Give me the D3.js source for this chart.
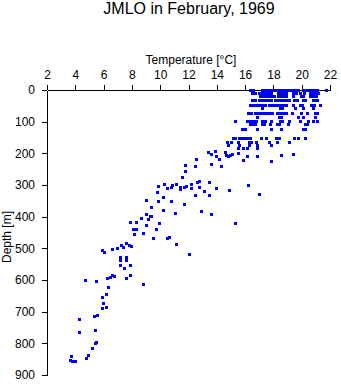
<!DOCTYPE html>
<html>
<head>
<meta charset="utf-8">
<script src="https://cdn.jsdelivr.net/npm/d3@7"></script>
<style>
  html, body { margin: 0; padding: 0; background: #fff; }
  svg { display: block; font-family: "Liberation Sans", Arial, Helvetica, sans-serif; }
</style>
</head>
<body>
<div id="chart"></div>
<script>
// ---- Data ----
const titleText = "JMLO in February, 1969";
const xLabel = "Temperature [°C]";
const yLabel = "Depth [m]";
const tempTicks = [2, 4, 6, 8, 10, 12, 14, 16, 18, 20, 22];
const depthTicks = [0, 100, 200, 300, 400, 500, 600, 700, 800, 900];

// Upper mixed layer: casts sampled at standard depths (depth row -> temperatures)
const rowDepths = [0, 12, 21, 32, 50, 59, 73, 87, 98, 110, 124, 152, 165, 176, 184];
const rowTemps = [
  [16.35, 16.6, 17.2, 17.4, 17.6, 17.8, 18.0, 18.2, 18.4, 18.6, 18.8, 19.0, 19.2, 19.4, 19.6, 19.8, 20.1, 20.3, 20.5, 20.7, 20.9, 21.1, 21.75],
  [16.5, 16.75, 17.05, 17.25, 17.45, 17.65, 17.85, 18.35, 18.55, 18.75, 18.95, 19.4, 19.6, 19.95, 20.2, 20.6, 20.8, 21.0, 21.2],
  [17.1, 17.3, 17.5, 17.7, 17.9, 18.1, 18.35, 18.55, 18.75, 18.95, 19.45, 20.0, 20.15, 20.65, 20.85, 21.05],
  [16.55, 16.75, 17.05, 17.25, 17.45, 17.65, 17.85, 18.15, 18.35, 18.55, 18.75, 18.95, 19.15, 19.5, 19.7, 20.1, 20.25, 20.8, 21.0, 21.15],
  [16.35, 16.6, 16.8, 17.05, 17.25, 17.45, 17.75, 17.95, 18.15, 18.35, 18.55, 18.75, 18.95, 19.45, 19.9, 20.05, 20.7, 20.9, 21.3],
  [17.2, 18.5, 18.65, 19.55, 20.1, 20.85],
  [16.25, 16.45, 16.75, 16.95, 17.15, 17.35, 17.55, 17.75, 17.95, 18.3, 18.5, 18.7, 18.95, 19.35, 20.0, 20.4, 20.95, 21.15],
  [16.9, 18.4, 18.6, 19.8, 20.1, 21.0],
  [15.35, 16.15, 16.35, 16.6, 16.8, 17.25, 17.45, 17.9, 18.5, 18.65, 19.15, 19.9, 20.45, 20.85, 21.1],
  [16.35, 16.55, 16.75, 17.25, 17.4, 17.8, 18.3, 18.45, 19.1, 20.25, 20.4],
  [15.85, 16.05, 16.9, 17.9, 18.6, 20.1, 20.3],
  [15.15, 15.35, 15.6, 15.75, 15.95, 16.15, 16.4, 17.15, 17.5, 18.2, 18.45, 19.5, 19.8, 20.3],
  [14.75, 15.05, 15.5, 16.3, 16.45, 16.8, 17.75, 18.3, 19.15],
  [14.8, 15.6, 16.3, 16.9, 17.9],
  [15.5, 15.9, 16.2, 16.9]
];

// Thermocline and deep water: individual observations
const deepTemps = [
  13.4, 13.6, 13.9, 14.0, 14.2, 14.6, 14.7, 14.85, 15.0, 15.1, 15.55, 15.9, 16.2, 16.9, 17.9, 18.6, 19.4, 12.6,
  11.8, 12.5, 13.6, 14.3, 11.8, 11.55, 10.3, 9.85, 10.5, 10.9, 10.8, 11.15, 11.4, 11.45, 11.75, 11.85, 12.2, 12.2,
  12.65, 12.8, 12.8, 13.45, 14.0, 14.9, 16.25, 17.0, 9.8, 13.1, 13.5, 12.5, 10.2,
  9.05, 9.9, 10.8, 11.75, 9.4, 10.2, 11.05, 12.9, 13.65, 15.3, 9.05, 9.3, 9.4, 9.15, 8.65, 7.9, 8.3, 9.95, 9.0,
  8.1, 8.35, 9.75, 8.8, 8.15, 9.5, 10.5, 10.65, 11.15, 12.1, 7.6, 7.8, 7.3, 7.4, 8.0, 6.95, 6.6, 5.9, 6.05,
  7.2, 7.6, 7.2, 7.6, 7.2, 7.9, 7.45, 6.6, 6.8, 6.5, 7.9, 7.65, 6.3, 5.5, 4.75, 8.85, 6.35, 6.2, 5.9,
  6.0, 6.2, 5.9, 5.6, 5.35, 4.3, 4.3, 5.4, 5.5, 5.4, 5.25, 4.9, 4.8, 3.7, 3.65, 3.8, 4.0
];
const deepDepths = [
  198, 204, 195, 211, 220, 198, 208, 211, 208, 204, 200, 224, 210, 210, 225, 208, 205, 218,
  238, 240, 236, 243, 256, 275, 299, 306, 312, 302, 307, 297, 307, 315, 309, 306, 297, 312,
  293, 288, 307, 293, 312, 318, 303, 330, 323, 322, 333, 334, 338,
  348, 353, 353, 360, 372, 381, 391, 385, 394, 420, 394, 399, 401, 409, 407, 417, 418, 420, 428,
  439, 442, 442, 453, 457, 470, 470, 466, 489, 521, 486, 490, 492, 497, 493, 501, 505, 507, 512,
  529, 529, 538, 538, 555, 554, 565, 586, 590, 592, 585, 596, 596, 604, 601, 615, 625, 646, 656,
  675, 686, 690, 712, 715, 726, 767, 761, 798, 801, 815, 838, 849, 841, 854, 856, 858
];

// ---- Build point table ----
const points = [];
rowDepths.forEach((d, i) => rowTemps[i].forEach(t => points.push({ t, d })));
deepTemps.forEach((t, i) => points.push({ t, d: deepDepths[i] }));

// ---- Layout ----
const W = 341, H = 384;
const margin = { left: 47, right: 11, top: 90, bottom: 9 };

const svg = d3.select("#chart").append("svg")
  .attr("width", W).attr("height", H);

const x = d3.scaleLinear().domain([2, 22]).range([margin.left, W - margin.right]);
const y = d3.scaleLinear().domain([0, 900]).range([margin.top, H - margin.bottom]);

// Title
svg.append("text")
  .attr("x", 189).attr("y", 14)
  .attr("text-anchor", "middle")
  .attr("font-size", 16)
  .attr("fill", "#000")
  .text(titleText);

// X axis on top
const gx = svg.append("g")
  .attr("transform", `translate(0,${margin.top})`)
  .call(d3.axisTop(x).tickValues(tempTicks).tickFormat(d3.format("d")).tickSize(5).tickSizeOuter(0).tickPadding(6));

svg.append("text")
  .attr("x", 191).attr("y", 64)
  .attr("text-anchor", "middle")
  .attr("font-size", 12)
  .attr("fill", "#000")
  .text(xLabel);

// Y axis on left
const gy = svg.append("g")
  .attr("transform", `translate(${margin.left},0)`)
  .call(d3.axisLeft(y).tickValues(depthTicks).tickFormat(d3.format("d")).tickSize(5).tickSizeOuter(0).tickPadding(7));

svg.append("text")
  .attr("transform", `translate(11,237) rotate(-90)`)
  .attr("text-anchor", "middle")
  .attr("font-size", 12)
  .attr("fill", "#000")
  .text(yLabel);

[gx, gy].forEach(g => {
  g.selectAll("text").attr("font-size", 12).attr("font-family", "Liberation Sans, Arial, sans-serif").attr("fill", "#000");
  g.selectAll("line, path").attr("stroke", "#000").attr("shape-rendering", "crispEdges");
});

// Points
const s = 3;
svg.append("g")
  .selectAll("rect")
  .data(points)
  .join("rect")
  .attr("x", p => Math.round(x(p.t) - s / 2))
  .attr("y", p => Math.round(y(p.d) - s / 2))
  .attr("width", s)
  .attr("height", s)
  .attr("fill", "#0000ff")
  .attr("shape-rendering", "crispEdges");
</script>
</body>
</html>
